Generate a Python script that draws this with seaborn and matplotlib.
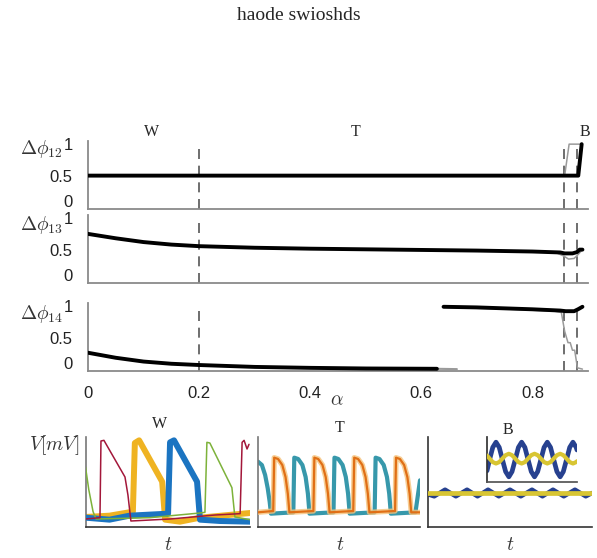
import matplotlib
matplotlib.use("Agg")
import matplotlib.pyplot as plt
import seaborn as sns

# ---------------- top panels: phase differences against alpha ----------------
a12 = [0.0, 0.2, 0.4, 0.6, 0.8, 0.8825, 0.8886]
dphi12 = [0.5, 0.5, 0.5, 0.5, 0.5, 0.5, 1.0]
a12_gray = [0.0, 0.4, 0.8, 0.858, 0.866, 0.885]
dphi12_gray = [0.5, 0.5, 0.5, 0.5, 1.0, 1.0]

a13 = [0.0, 0.05, 0.1, 0.15, 0.2, 0.3, 0.4, 0.5, 0.6, 0.7, 0.8, 0.85, 0.858, 0.872, 0.88, 0.885, 0.89]
dphi13 = [0.75, 0.68, 0.62, 0.58, 0.555, 0.53, 0.515, 0.505, 0.495, 0.485, 0.47, 0.455, 0.44, 0.44, 0.46, 0.5, 0.5]
a13_gray = [0.84, 0.856, 0.865, 0.875, 0.883, 0.888]
dphi13_gray = [0.46, 0.4, 0.35, 0.36, 0.43, 0.48]

a14_low = [0.0, 0.05, 0.1, 0.15, 0.2, 0.3, 0.4, 0.5, 0.628]
dphi14_low = [0.26, 0.18, 0.12, 0.085, 0.065, 0.035, 0.02, 0.01, 0.005]
a14_low_gray = [0.5, 0.628, 0.664]
dphi14_low_gray = [0.01, 0.005, 0.0]
a14_up = [0.64, 0.7, 0.75, 0.8, 0.85, 0.86, 0.875, 0.882, 0.89]
dphi14_up = [0.99, 0.98, 0.965, 0.95, 0.93, 0.92, 0.92, 0.95, 0.99]
a14_up_gray = [0.64, 0.75, 0.84, 0.852, 0.858, 0.864, 0.868, 0.872, 0.876, 0.881, 0.89]
dphi14_up_gray = [0.98, 0.955, 0.92, 0.9, 0.6, 0.42, 0.42, 0.3, 0.3, 0.02, 0.0]

regime_bounds = [0.2, 0.857, 0.881]
regime_names = ["W", "T", "B"]
dphi_labels = [r"$\Delta\phi_{12}$", r"$\Delta\phi_{13}$", r"$\Delta\phi_{14}$"]

# ---------------- bottom panels: voltage traces ----------------
# W regime
w_green_t = [0, 10, 23, 32, 196, 348, 363, 369, 378, 445, 454, 500]
w_green_v = [0, -34, -67, -78, -76, -69, -68, 37, 36, -31, -75, -79]
w_red_t = [0, 44, 47, 56, 120, 129, 138, 257, 394, 470, 476, 482, 491, 497]
w_red_v = [-78, -76, 39, 40, -15, -42, -81, -78, -72, -70, 37, 40, 27, 34]
w_yellow_t = [0, 73, 144, 150, 163, 233, 242, 287, 348, 500]
w_yellow_v = [-75, -73, -67, 36, 40, -22, -79, -82, -76, -69]
w_blue_t = [0, 73, 134, 251, 257, 269, 339, 348, 409, 500]
w_blue_v = [-76, -79, -73, -70, 37, 40, -22, -79, -81, -82]

# T regime
t_orange_t = [0, 47, 50, 62, 75, 85, 92, 97,
              171, 174, 186, 199, 209, 216, 221,
              294, 297, 309, 322, 332, 339, 344,
              423, 426, 438, 451, 461, 468, 473, 500]
t_orange_v = [-68, -66, 14, 12, 3, -15, -40, -68,
              -66, 14, 12, 3, -15, -40, -68,
              -66, 14, 12, 3, -15, -40, -68,
              -66, 14, 12, 3, -15, -40, -68, -68]
t_teal_t = [0, 12, 22, 30, 36, 40,
            109, 112, 124, 137, 147, 154, 159,
            233, 236, 248, 261, 271, 278, 283,
            360, 363, 375, 388, 398, 405, 410,
            486, 500]
t_teal_v = [8, 3, -12, -32, -52, -70,
            -68, 14, 12, 3, -15, -40, -70,
            -68, 14, 12, 3, -15, -40, -70,
            -68, 14, 12, 3, -15, -40, -70,
            -68, -20]

# B regime
b_t = [0, 19, 52, 85, 119, 151, 183, 216, 250, 283, 317, 349, 381, 414, 448, 481, 500]
b_blue_v = [-41, -44, -34, -44, -34, -44, -34, -44, -34, -44, -34, -44, -34, -44, -34, -44, -39]
b_yellow_t = [0, 500]
b_yellow_v = [-39, -39]

inset_t = [0, 2.9, 6.4, 10, 13.6, 17.1, 20.7, 24.3, 27.8, 31.4, 34.9, 38.5, 42.1, 45.6, 49.2,
           52.8, 56.3, 59.9, 63.4, 67, 70.6, 74.1, 77.7, 81.3, 84.8, 88.4, 91.9, 95.5, 99.1, 100]
inset_blue = [-0.65, 0, 0.7, 1, 0.7, 0, -0.7, -1, -0.7, 0, 0.7, 1, 0.7, 0, -0.7,
              -1, -0.7, 0, 0.7, 1, 0.7, 0, -0.7, -1, -0.7, 0, 0.7, 1, 0.7, 0.55]
inset_yellow = [0.23, 0.05, -0.15, -0.23, -0.15, 0.05, 0.25, 0.33, 0.25, 0.05, -0.15, -0.23, -0.15, 0.05, 0.25,
                0.33, 0.25, 0.05, -0.15, -0.23, -0.15, 0.05, 0.25, 0.33, 0.25, 0.05, -0.15, -0.23, -0.15, -0.10]

# ---------------- style ----------------
sns.set_theme(style="white")
plt.rcParams["font.family"] = ["Liberation Sans", "DejaVu Sans"]
plt.rcParams["mathtext.fontset"] = "cm"

W, H = 597, 558
fig = plt.figure(figsize=(W / 100, H / 100), dpi=100)


def fx(px):
    return px / W


def fy(py):
    return 1 - py / H


def line(ax, x, y, color, lw, z=2, alpha=1.0):
    sns.lineplot(x=x, y=y, ax=ax, color=color, lw=lw, sort=False,
                 estimator=None, zorder=z, alpha=alpha)


GRAY = "#9a9a9a"
SPINE = "#8a8a8a"

# top three axes
bottoms = [209, 283, 371]
top_axes = []
for i, b in enumerate(bottoms):
    ax = fig.add_axes([fx(88), fy(b), fx(588) - fx(88), 68 / H])
    ax.set_xlim(0, 0.9)
    ax.set_ylim(-0.03, 1.05)
    for s in ["top", "right"]:
        ax.spines[s].set_visible(False)
    for s in ["left", "bottom"]:
        ax.spines[s].set_color(SPINE)
        ax.spines[s].set_linewidth(1.3)
    ax.set_yticks([0, 0.5, 1])
    ax.set_yticklabels(["0", "0.5", "1"])
    ax.set_xticks([0, 0.2, 0.4, 0.6, 0.8])
    ax.tick_params(direction="in", length=4, width=1, color=SPINE,
                   labelsize=12, pad=11, labelcolor="#222222")
    if i < 2:
        ax.set_xticklabels([])
    else:
        ax.set_xticklabels(["0", "0.2", "0.4", "0.6", "0.8"])
    # the "0" label sits just above its tick, as in the original
    ax.yaxis.get_major_ticks()[0].label1.set_va("baseline")
    for xb in regime_bounds:
        ax.axvline(xb, ymin=0, ymax=0.97, color="#555555", lw=1.2,
                   dashes=(6, 4), zorder=1)
    top_axes.append(ax)

ax1, ax2, ax3 = top_axes
line(ax1, a12_gray, dphi12_gray, GRAY, 1.1, z=3)
line(ax1, a12, dphi12, "black", 2.8, z=4)
line(ax2, a13_gray, dphi13_gray, GRAY, 1.1, z=3)
line(ax2, a13, dphi13, "black", 2.8, z=4)
line(ax3, a14_low_gray, dphi14_low_gray, GRAY, 1.5, z=3)
line(ax3, a14_low, dphi14_low, "black", 2.8, z=4)
line(ax3, a14_up_gray, dphi14_up_gray, GRAY, 1.1, z=3)
line(ax3, a14_up, dphi14_up, "black", 2.8, z=4)
for ax in top_axes:
    ax.set_xlabel("")
    ax.set_ylabel("")

for lab, py in zip(dphi_labels, [149, 225, 314]):
    fig.text(fx(63), fy(py), lab, ha="right", va="center", fontsize=14, color="#333333")

fig.text(fx(337), fy(401), r"$\alpha$", ha="center", va="center", fontsize=14, color="#333333")

for name, px in zip(regime_names, [152, 356, 585]):
    fig.text(fx(px), fy(132), name, ha="center", va="center", fontsize=11.5,
             family="Liberation Serif")

fig.text(0.5, fy(16), "haode swioshds", ha="center", va="center", fontsize=14,
         family="Liberation Serif")

# bottom three axes
boxes = [(85.5, 250), (258, 420), (428, 592)]
bot_axes = []
for i, (l, r) in enumerate(boxes):
    ax = fig.add_axes([fx(l), fy(527), fx(r) - fx(l), 90 / H])
    ax.set_xlim(0, 500)
    ax.set_ylim(-90, 45)
    ax.set_xticks([])
    ax.set_yticks([])
    for s in ["top", "right"]:
        ax.spines[s].set_visible(False)
    ax.spines["bottom"].set_color("#333333")
    ax.spines["left"].set_color("#777777" if i < 2 else "#333333")
    ax.spines["bottom"].set_linewidth(1.2)
    ax.spines["left"].set_linewidth(1.2)
    bot_axes.append(ax)

axw, axt, axb = bot_axes
line(axw, w_yellow_t, w_yellow_v, "#efb322", 4.3, z=2)
line(axw, w_blue_t, w_blue_v, "#1b74c1", 4.3, z=3)
line(axw, w_green_t, w_green_v, "#7db23a", 1.1, z=4)
line(axw, w_red_t, w_red_v, "#a3173a", 1.1, z=4)

line(axt, t_teal_t, t_teal_v, "#3798ab", 3.0, z=2)
line(axt, t_orange_t, t_orange_v, "#f6c27a", 3.8, z=3, alpha=0.8)
line(axt, t_orange_t, t_orange_v, "#e06f16", 1.6, z=4)

line(axb, b_t, b_blue_v, "#27418f", 3.2, z=2)
line(axb, b_yellow_t, b_yellow_v, "#d8c532", 3.4, z=3)

axi = fig.add_axes([fx(487), fy(482), fx(577) - fx(487), 45 / H])
axi.set_xlim(0, 100)
axi.set_ylim(-1.3, 1.3)
axi.set_xticks([])
axi.set_yticks([])
axi.patch.set_alpha(0)
for s in ["top", "right"]:
    axi.spines[s].set_visible(False)
axi.spines["left"].set_color("#333333")
axi.spines["bottom"].set_color("#555555")
line(axi, inset_t, inset_blue, "#27418f", 3.4, z=2)
line(axi, inset_t, inset_yellow, "#d8c532", 3.0, z=3)

for ax in bot_axes + [axi]:
    ax.set_xlabel("")
    ax.set_ylabel("")

fig.text(fx(80), fy(445), r"$V[mV]$", ha="right", va="center", fontsize=14, color="#333333")
fig.text(fx(160), fy(424), "W", ha="center", va="center", fontsize=11.5, family="Liberation Serif")
fig.text(fx(340), fy(428), "T", ha="center", va="center", fontsize=11.5, family="Liberation Serif")
fig.text(fx(508), fy(430), "B", ha="center", va="center", fontsize=11.5, family="Liberation Serif")
for px in [168, 340, 510]:
    fig.text(fx(px), fy(545), r"$t$", ha="center", va="center", fontsize=14, color="#333333")

fig.savefig("out.png", dpi=100)
